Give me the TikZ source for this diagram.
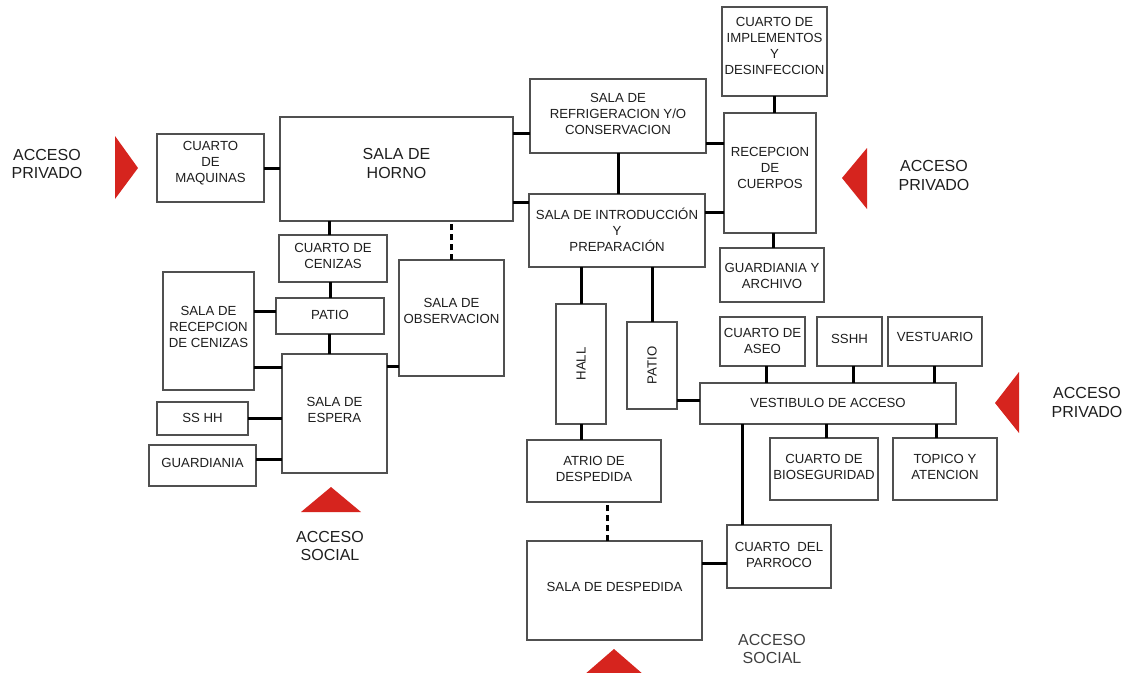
\documentclass[tikz,border=0pt]{standalone}
\usepackage{fontspec}
\setmainfont{Liberation Sans}
\definecolor{boxgray}{RGB}{80,80,80}
\definecolor{ink}{RGB}{30,30,30}
\definecolor{accred}{RGB}{214,36,30}

% room: [text style] name, x1, y1, x2, y2, text lift, text
\newcommand\roombox[8][]{%
  \node[room, minimum width={#5-#3}, minimum height={#6-#4}] (#2) at ({(#3+#5)/2},{(#4+#6)/2}) {};
  \node[roomtext, #1] (#2-t) at ([yshift=#7pt]#2.center) {#8};}

\begin{document}
\begin{tikzpicture}[x=1pt, y=-1pt,
  room/.style={draw=boxgray, line width=1.2pt, fill=white, inner sep=0pt, outer sep=0pt},
  roomtext/.style={font=\fontsize{13.2}{16}\selectfont, text=ink, align=center, inner sep=0pt},
  bigtext/.style={font=\fontsize{16}{19}\selectfont},
  link/.style={line width=3pt, draw=black},
  dlink/.style={link, dash pattern=on 6pt off 4pt},
  acc/.style={fill=accred},
  acctext/.style={font=\fontsize{16}{18.5}\selectfont, text=ink, align=center, inner sep=0pt}]
\useasboundingbox (0,0) rectangle (1131,672);
\fill[white] (0,0) rectangle (1131,672);

% ---- crematory / waiting wing ----
\roombox{maq}{157}{134}{264}{202}{4.5}{CUARTO\\DE\\MAQUINAS}
\roombox[bigtext]{horno}{280}{117}{513}{221}{5.5}{SALA DE\\HORNO}
\roombox{cen}{279}{235}{387}{282}{3}{CUARTO DE\\CENIZAS}
\roombox{patioL}{276}{298}{384}{334}{1}{PATIO}
\roombox{recc}{163}{272}{254}{390}{4}{SALA DE\\RECEPCION\\DE CENIZAS}
\roombox{obs}{399}{260}{504}{376}{7}{SALA DE\\OBSERVACION}
\roombox{esp}{282}{354}{387}{473}{3.5}{SALA DE\\ESPERA}
\roombox{sshhL}{157}{402}{248}{435}{0.5}{SS HH}
\roombox{guard}{149}{445}{256}{486}{2.5}{GUARDIANIA}

% ---- body reception wing ----
\roombox{impl}{722}{7}{827}{96}{6}{CUARTO DE\\IMPLEMENTOS\\Y\\DESINFECCION}
\roombox{refr}{530}{79}{706}{153}{2}{SALA DE\\REFRIGERACION Y/O\\CONSERVACION}
\roombox{recep}{724}{113}{816}{233}{5}{RECEPCION\\DE\\CUERPOS}
\roombox{intro}{529}{194}{705}{267}{1}{SALA DE INTRODUCCIÓN\\Y\\PREPARACIÓN}
\roombox{garch}{720}{248}{824}{302}{-1}{GUARDIANIA Y\\ARCHIVO}

% ---- farewell / staff wing ----
\roombox[rotate=90]{hall}{556}{304}{606}{424}{0}{HALL}
\roombox[rotate=90]{patioV}{627}{322}{677}{409}{0}{PATIO}
\roombox{aseo}{720}{317}{805}{366}{0.5}{CUARTO DE\\ASEO}
\roombox{sshhR}{817}{317}{882}{366}{2.5}{SSHH}
\roombox{vestu}{888}{317}{982}{366}{4.5}{VESTUARIO}
\roombox{vest}{700}{383}{956}{424}{0.5}{VESTIBULO DE ACCESO}
\roombox{atrio}{527}{440}{661}{502}{2}{ATRIO DE\\DESPEDIDA}
\roombox{bio}{770}{438}{878}{500}{2}{CUARTO DE\\BIOSEGURIDAD}
\roombox{topi}{893}{438}{997}{500}{2}{TOPICO Y\\ATENCION}
\roombox{parr}{727}{525}{831}{588}{1.5}{CUARTO~~DEL\\PARROCO}
\roombox{desp}{527}{541}{702}{640}{3.5}{SALA DE DESPEDIDA}

% ---- links, left wing ----
\draw[link] (maq.east) -- (maq.east -| horno.west);
\draw[link] ([xshift=-4pt]cen.north) -- ([xshift=-4pt]cen.north |- horno.south);
\draw[dlink] (obs.north) -- (obs.north |- horno.south);
\draw[link] ([xshift=-3pt]cen.south) -- ([xshift=-3pt]cen.south |- patioL.north);
\draw[link] ([yshift=5pt]patioL.west) -- ([yshift=5pt]patioL.west -| recc.east);
\draw[link] ([xshift=-1pt]patioL.south) -- ([xshift=-1pt]patioL.south |- esp.north);
\draw[link] ([yshift=-36pt]recc.east) -- ([yshift=-36pt]recc.east -| esp.west);
\draw[link] ([yshift=-48pt]obs.west) -- ([yshift=-48pt]obs.west -| esp.east);
\draw[link] (sshhL.east) -- (sshhL.east -| esp.west);
\draw[link] ([yshift=6pt]guard.east) -- ([yshift=6pt]guard.east -| esp.west);

% ---- links, right wings ----
\draw[link] ([yshift=-17pt]refr.west) -- ([yshift=-17pt]refr.west -| horno.east);
\draw[link] ([yshift=28.5pt]intro.west) -- ([yshift=28.5pt]intro.west -| horno.east);
\draw[link] (refr.south) -- (refr.south |- intro.north);
\draw[link] ([yshift=-27pt]refr.east) -- ([yshift=-27pt]refr.east -| recep.west);
\draw[link] ([yshift=18.5pt]intro.east) -- ([yshift=18.5pt]intro.east -| recep.west);
\draw[link] (impl.south) -- (impl.south |- recep.north);
\draw[link] ([xshift=1pt]garch.north) -- ([xshift=1pt]garch.north |- recep.south);
\draw[link] (hall.north) -- (hall.north |- intro.south);
\draw[link] (patioV.north) -- (patioV.north |- intro.south);
\draw[link] ([yshift=3.5pt]vest.west) -- ([yshift=3.5pt]vest.west -| patioV.east);
\draw[link] ([xshift=3.5pt]aseo.south) -- ([xshift=3.5pt]aseo.south |- vest.north);
\draw[link] ([xshift=3.5pt]sshhR.south) -- ([xshift=3.5pt]sshhR.south |- vest.north);
\draw[link] ([xshift=-1pt]vestu.south) -- ([xshift=-1pt]vestu.south |- vest.north);
\draw[link] ([xshift=2pt]bio.north) -- ([xshift=2pt]bio.north |- vest.south);
\draw[link] ([xshift=-9pt]topi.north) -- ([xshift=-9pt]topi.north |- vest.south);
\draw[link] ([xshift=-37pt]parr.north) -- ([xshift=-37pt]parr.north |- vest.south);
\draw[link] (hall.south) -- (hall.south |- atrio.north);
\draw[dlink] ([xshift=-7.5pt]desp.north) -- ([xshift=-7.5pt]desp.north |- atrio.south);
\draw[link] ([yshift=-6.5pt]parr.west) -- ([yshift=-6.5pt]parr.west -| desp.east);

% ---- access markers ----
\begin{scope}
  \clip (0,0) rectangle (1131,672);
  \fill[acc] (138,168) -- (115,136) -- (115,199) -- cycle;
  \fill[acc] (842,178) -- (867,148) -- (867,209) -- cycle;
  \fill[acc] (995,403) -- (1019,372) -- (1019,433) -- cycle;
  \fill[acc] (331,487) -- (361,512) -- (301,512) -- cycle;
  \fill[acc] (614,649) -- (644,675) -- (584,675) -- cycle;
\end{scope}
\node[acctext] (accL) at (47,164) {ACCESO\\PRIVADO};
\node[acctext] (accR1) at (934,175.5) {ACCESO\\PRIVADO};
\node[acctext] (accR2) at (1087,402.5) {ACCESO\\PRIVADO};
\node[acctext] (accS1) at (330,546) {ACCESO\\SOCIAL};
\node[acctext, text=black!75] (accS2) at (772,649) {ACCESO\\SOCIAL};
\end{tikzpicture}
\end{document}
